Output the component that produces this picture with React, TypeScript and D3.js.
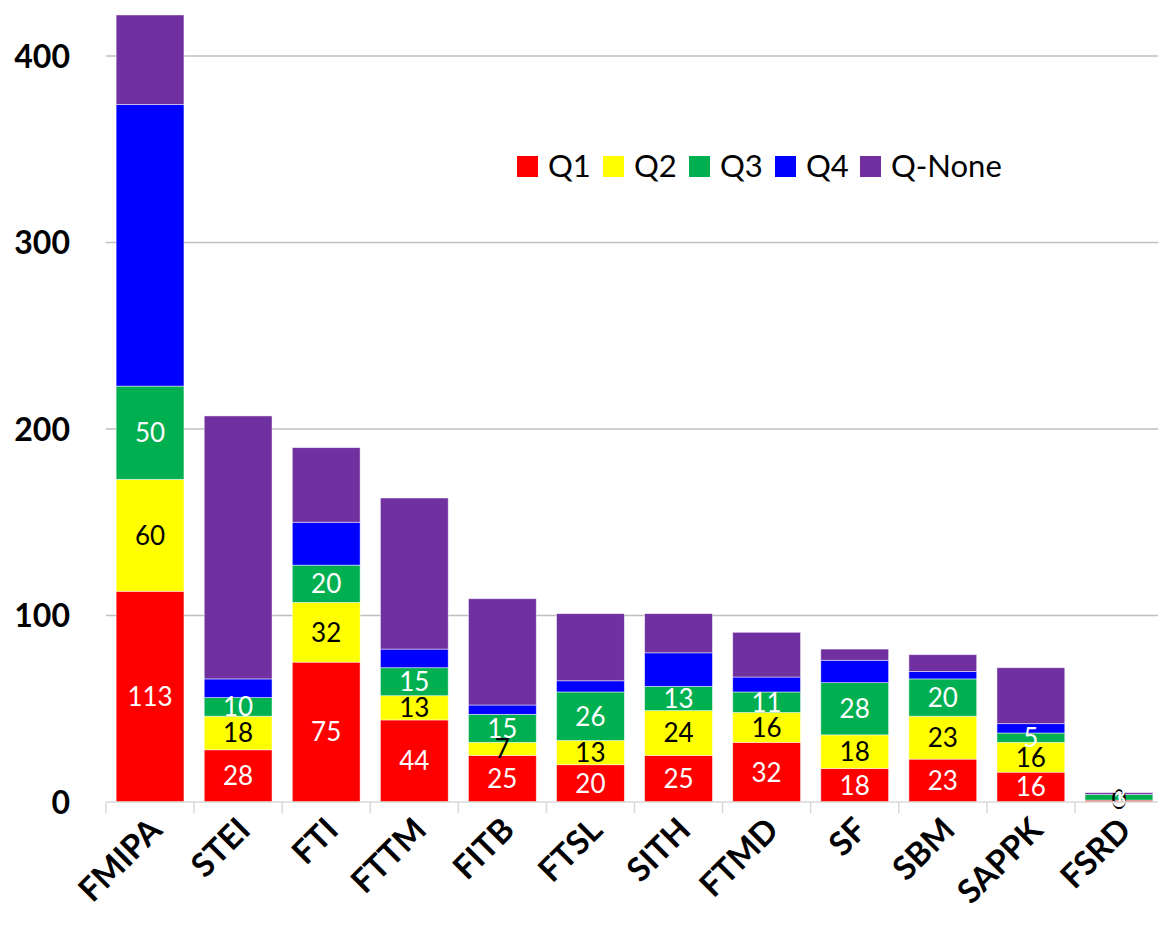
import React from "react";
import * as d3 from "d3";

const categories = ["FMIPA", "STEI", "FTI", "FTTM", "FITB", "FTSL", "SITH", "FTMD", "SF", "SBM", "SAPPK", "FSRD"];
const seriesNames = ["Q1", "Q2", "Q3", "Q4", "Q-None"];
const q1 = [113, 28, 75, 44, 25, 20, 25, 32, 18, 23, 16, 1];
const q2 = [60, 18, 32, 13, 7, 13, 24, 16, 18, 23, 16, 0];
const q3 = [50, 10, 20, 15, 15, 26, 13, 11, 28, 20, 5, 3];
const q4 = [151, 10, 23, 10, 5, 6, 18, 8, 12, 4, 5, 0];
const qNone = [48, 141, 40, 81, 57, 36, 21, 24, 6, 9, 30, 1];
const yTicks = [0, 100, 200, 300, 400];

const colors = ["#ff0000", "#ffff00", "#00b050", "#0000ff", "#7030a0"];
const labelColors = ["#ffffff", "#000000", "#ffffff", null, null];

export default function App() {
  const W = 1158, H = 925;
  const rows = categories.map((c, i) => ({
    cat: c,
    Q1: q1[i], Q2: q2[i], Q3: q3[i], Q4: q4[i], "Q-None": qNone[i],
  }));
  const stack = d3.stack<any>().keys(seriesNames)(rows);
  const x = d3.scaleBand().domain(categories).range([106, 1163]).paddingInner(0.23).paddingOuter(0.115);
  const y = d3.scaleLinear().domain([0, 400]).range([802, 56]);
  const step = x.step();
  const font = "Lato, 'Open Sans', sans-serif";

  const legendX = [517, 603, 689, 775, 860];

  return (
    <svg width={W} height={H} style={{ position: "absolute", left: 0, top: 0, background: "#fff" }} fontFamily={font}>
      {yTicks.filter((t) => t > 0).map((t) => (
        <line key={t} x1={106} x2={1158} y1={y(t)} y2={y(t)} stroke="#bfbfbf" strokeWidth={1.3} />
      ))}
      {yTicks.map((t) => (
        <text key={"t" + t} x={70} y={y(t)} dy="0.36em" textAnchor="end" fontSize={32} fontWeight={700} fill="#000">
          {t}
        </text>
      ))}
      {stack.map((s, si) => (
        <g key={s.key}>
          {s.map((d, i) => (
            <rect
              key={i}
              x={x(categories[i])}
              width={x.bandwidth()}
              y={y(d[1])}
              height={Math.max(0, y(d[0]) - y(d[1]))}
              fill={colors[si]}
              stroke="#ffffff"
              strokeOpacity={0.6}
              strokeWidth={0.8}
            />
          ))}
        </g>
      ))}
      {stack.map((s, si) =>
        labelColors[si] ? (
          <g key={"l" + s.key}>
            {s.map((d, i) => (
              <text
                key={i}
                x={(x(categories[i]) as number) + x.bandwidth() / 2}
                y={y((d[0] + d[1]) / 2)}
                dy="0.36em"
                textAnchor="middle"
                fontSize={26}
                fill={labelColors[si] as string}
              >
                {d[1] - d[0]}
              </text>
            ))}
          </g>
        ) : null
      )}
      <line x1={106} x2={1158} y1={y(0)} y2={y(0)} stroke="#d9d9d9" strokeWidth={1.5} />
      {d3.range(categories.length + 1).map((k) => {
        const xx = 106 + k * step;
        return <line key={"tk" + k} x1={xx} x2={xx} y1={y(0)} y2={y(0) + 11} stroke="#d9d9d9" strokeWidth={1.5} />;
      })}
      {categories.map((c) => {
        const cx = (x(c) as number) + x.bandwidth() / 2 + 14;
        const cy = 832;
        return (
          <text
            key={c}
            transform={`translate(${cx},${cy}) rotate(-45)`}
            textAnchor="end"
            fontSize={33}
            fontWeight={700}
            fill="#000"
          >
            {c}
          </text>
        );
      })}
      {seriesNames.map((n, i) => (
        <g key={"lg" + n}>
          <rect x={legendX[i]} y={156} width={21} height={21} fill={colors[i]} />
          <text x={legendX[i] + 31} y={177} fontSize={31} fill="#000">
            {n}
          </text>
        </g>
      ))}
    </svg>
  );
}
